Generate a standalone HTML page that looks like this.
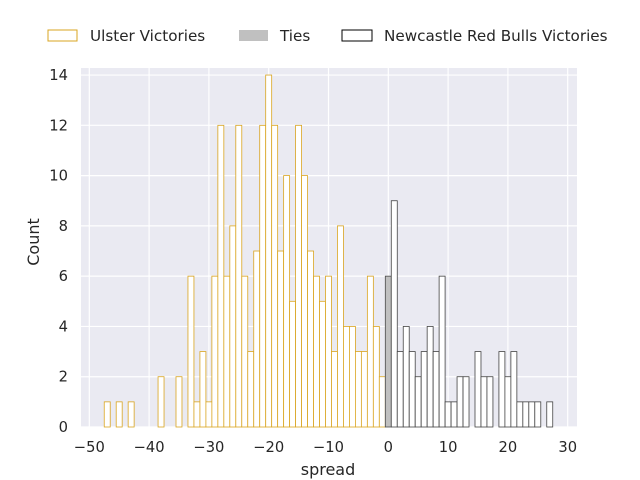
<!DOCTYPE html>
<html><head><meta charset="utf-8"><style>
html,body{margin:0;padding:0;background:#fff;width:640px;height:480px;overflow:hidden}
svg{display:block;font-family:"DejaVu Sans","Liberation Sans",sans-serif;fill:#262626}
</style></head><body>
<svg id="s" width="640" height="480" viewBox="0 0 640 480" xmlns="http://www.w3.org/2000/svg">
<rect x="81" y="68" width="496" height="359" fill="#EAEAF2"/>
<g id="grid" stroke="#fff" stroke-width="1.2"></g>
<g id="bars"></g>
<g id="ticks" font-size="14.7"></g>
<text x="328" y="475" font-size="16" text-anchor="middle">spread</text>
<text transform="translate(39,242) rotate(-90)" font-size="16" text-anchor="middle">Count</text>
<rect x="48" y="30" width="29" height="11" fill="#fff" stroke="#DAA520" stroke-width="1"/>
<text x="90" y="41" font-size="15.2">Ulster Victories</text>
<rect x="239" y="30" width="29" height="11" fill="#c0c0c0"/>
<text x="280" y="41" font-size="15.2">Ties</text>
<rect x="342" y="30" width="30" height="11" fill="#fff" stroke="#000" stroke-width="1"/>
<text x="384" y="41" font-size="15.2">Newcastle Red Bulls Victories</text>
</svg>
<script>
var NS="http://www.w3.org/2000/svg";
function el(p,t,a,txt){var e=document.createElementNS(NS,t);for(var k in a)e.setAttribute(k,a[k]);if(txt!=null)e.textContent=txt;p.appendChild(e);return e;}
var X=function(v){return 388.3+5.98*v;}, Y=function(c){return 427-25.14*c;};
var g=document.getElementById('grid'),tk=document.getElementById('ticks'),b=document.getElementById('bars');
for(var v=-50;v<=30;v+=10){el(g,'line',{x1:X(v),x2:X(v),y1:68,y2:427});el(tk,'text',{x:X(v),y:452,'text-anchor':'middle'},(v<0?'\u2212'+(-v):''+v));}
for(var c=0;c<=14;c+=2){el(g,'line',{x1:81,x2:577,y1:Y(c),y2:Y(c)});el(tk,'text',{x:68,y:Y(c)+5,'text-anchor':'end'},''+c);}
var U={"-47":1,"-45":1,"-43":1,"-38":2,"-35":2,"-33":6,"-32":1,"-31":3,"-30":1,"-29":6,"-28":12,"-27":6,"-26":8,"-25":12,"-24":6,"-23":3,"-22":7,"-21":12,"-20":14,"-19":12,"-18":7,"-17":10,"-16":5,"-15":12,"-14":10,"-13":7,"-12":6,"-11":5,"-10":6,"-9":3,"-8":8,"-7":4,"-6":4,"-5":3,"-4":3,"-3":6,"-2":4,"-1":2};
var N={1:9,2:3,3:4,4:3,5:2,6:3,7:4,8:3,9:6,10:1,11:1,12:2,13:2,15:3,16:2,17:2,19:3,20:2,21:3,22:1,23:1,24:1,25:1,27:1};
function bar(k,h,fill,stroke){var x=385.3+5.98*(+k);el(b,'rect',{x:x,y:Y(h),width:5.98,height:427-Y(h),fill:fill,stroke:stroke,'stroke-width':0.8});}
for(var k in U)bar(k,U[k],'#fff','#DAA520');
bar(0,6,'#c0c0c0','#4a4a4a');
for(var k in N)bar(k,N[k],'#fff','#444');
</script>
</body></html>
